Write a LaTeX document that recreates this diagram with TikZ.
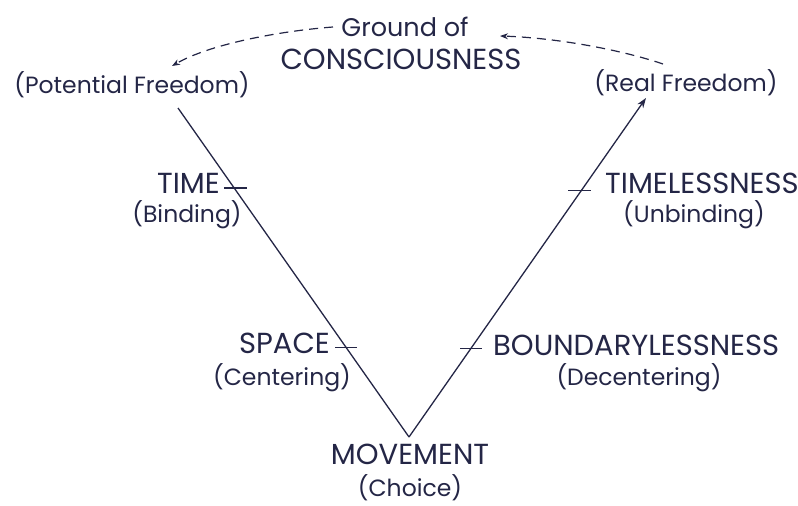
\documentclass[tikz,border=0pt]{standalone}
\usepackage{fontspec}
\setmainfont{Poppins}
\usetikzlibrary{arrows.meta}
\definecolor{ink}{RGB}{36,38,70}
\tikzset{
  caps/.style={text=ink,font=\fontsize{29}{32}\selectfont,inner sep=0pt},
  sub/.style={text=ink,font=\fontsize{23.5}{28}\selectfont,inner sep=0pt},
  vline/.style={draw=ink,line width=1.3pt},
  tick/.style={draw=ink,line width=1.2pt},
  dasharrow/.style={draw=ink,line width=1.2pt,dash pattern=on 9pt off 6pt,-{Stealth[length=8pt,width=6pt]}}
}
\begin{document}
\begin{tikzpicture}[x=1pt,y=-1pt]
\useasboundingbox (0,0) rectangle (798,506);
% labels
\node[sub,font=\fontsize{25.5}{28}\selectfont] (ground) at (405,27) {Ground of};
\node[caps] (consc) at (401,59) {CONSCIOUSNESS};
\node[sub] (potential) at (132,85) {(Potential Freedom)};
\node[sub] (real) at (686,83) {(Real Freedom)};
\node[caps,anchor=east] (time) at (220,183) {TIME};
\node[sub] (binding) at (187,215) {(Binding)};
\node[caps,anchor=west] (timeless) at (605,183) {TIMELESSNESS};
\node[sub] (unbinding) at (694,215) {(Unbinding)};
\node[caps,anchor=east] (space) at (330,343) {SPACE};
\node[sub] (centering) at (282,378) {(Centering)};
\node[caps,anchor=west] (boundary) at (493,345) {BOUNDARYLESSNESS};
\node[sub] (decentering) at (639,378) {(Decentering)};
\node[caps] (movement) at (410,454) {MOVEMENT};
\node[sub] (choice) at (410,488) {(Choice)};
% the V
\coordinate (topl) at (178,108);
\coordinate (bottom) at (409,437);
\coordinate (topr) at (646,98);
\draw[vline] (topl) -- (bottom);
\draw[vline,-{Stealth[length=10pt,width=7pt]}] (bottom) -- (topr);
\path (topl) -- (bottom) coordinate[pos=0.243] (ttime) coordinate[pos=0.729] (tspace);
\path (bottom) -- (topr) coordinate[pos=0.727] (ttimeless) coordinate[pos=0.262] (tbound);
\draw[tick] ([xshift=-10pt]ttime) -- ([xshift=13pt]ttime);
\draw[tick] ([xshift=-11pt]tspace) -- ([xshift=11pt]tspace);
\draw[tick] ([xshift=-13pt]ttimeless) -- ([xshift=10pt]ttimeless);
\draw[tick] ([xshift=-11pt]tbound) -- ([xshift=11pt]tbound);
% dashed arrows to and from the ground
\coordinate (gl) at (333,27);
\coordinate (pl) at (172,66);
\coordinate (rs) at (663,64);
\coordinate (gr) at (500,36);
\draw[dasharrow] (gl) .. controls (280,31) and (210,44) .. (pl);
\draw[dasharrow] (rs) .. controls (625,51) and (560,38) .. (gr);
\end{tikzpicture}
\end{document}
